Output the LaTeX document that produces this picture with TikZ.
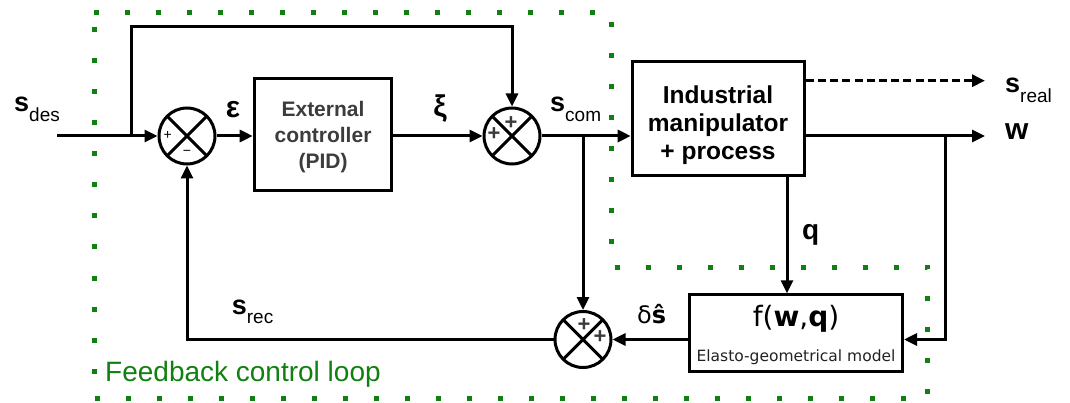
\documentclass[tikz,border=0pt]{standalone}
\usepackage{fontspec}
\setmainfont{Liberation Sans}
\newfontfamily\dejavu{DejaVu Sans}
\usetikzlibrary{arrows.meta,calc}
\definecolor{loopgreen}{RGB}{16,128,16}
\definecolor{txtgray}{RGB}{60,60,60}
\definecolor{modelgray}{RGB}{34,34,34}
\newcommand{\svar}[1]{{\fontsize{27}{27}\selectfont\bfseries s}\raisebox{-9.5pt}{\fontsize{19}{19}\selectfont #1}}
\begin{document}
\begin{tikzpicture}[x=1pt,y=-1pt,
  lw/.style={line width=3pt},
  arr/.style={lw,-{Triangle[length=13pt,width=12pt]}},
  blockbox/.style={draw,lw,inner sep=0pt,fill=white},
  sumj/.style={draw,lw,circle,minimum size=56pt,inner sep=0pt,fill=white,
    path picture={\draw[lw] (path picture bounding box.north west) -- (path picture bounding box.south east)
      (path picture bounding box.north east) -- (path picture bounding box.south west);}},
  lab/.style={anchor=base west,inner sep=0pt},
  bigplus/.style={inner sep=0pt,text=txtgray,font=\bfseries\fontsize{22}{22}\selectfont},
  smallsign/.style={inner sep=0pt,font=\fontsize{14}{14}\selectfont},
  greek/.style={inner sep=0pt,font=\bfseries\fontsize{30}{30}\selectfont},
  loopdots/.style={loopgreen,line width=5pt,dash pattern=on 5pt off 26pt}
]
\useasboundingbox (0,0) rectangle (1070,403);

% blocks
\node[blockbox,minimum width=137.6pt,minimum height=111.4pt] (ctrl) at (323,134.5) {};
\node[blockbox,minimum width=172pt,minimum height=113.7pt] (ind) at (718.2,118.35) {};
\node[blockbox,minimum width=212.7pt,minimum height=77pt] (fbox) at (796.15,333.3) {};

% summing junctions
\node[sumj] (c1) at (187,136) {};
\node[sumj] (c2) at (512,136) {};
\node[sumj] (c3) at (583,339.5) {};

% signs
\node[smallsign] (c1p) at (167.7,135) {+};
\node[smallsign] (c1m) at (187,152.7) {−};
\node[bigplus] (c2p1) at (494,134) {+};
\node[bigplus] (c2p2) at (511,122.7) {+};
\node[bigplus] (c3p1) at (584,325) {+};
\node[bigplus] (c3p2) at (600,336.7) {+};

% block texts
\node[anchor=base,align=center,text=txtgray,inner sep=0pt,
  font=\bfseries\fontsize{21}{26}\selectfont] (ctrltxt) at (323,168.3) {External\\controller\\(PID)};
\node[anchor=base,align=center,inner sep=0pt,
  font=\bfseries\fontsize{24.5}{28.3}\selectfont] (indtxt) at (718,160) {Industrial\\manipulator\\+ process};
\node[anchor=base,inner sep=0pt,font=\dejavu\fontsize{28}{28}\selectfont] (fwq) at (796,326) {f(\textbf{w},\textbf{q})};
\node[anchor=base,inner sep=0pt,text=modelgray,font=\dejavu\fontsize{15.5}{15.5}\selectfont] (elasto) at (796,361) {Elasto-geometrical model};

% coordinates
\coordinate (in) at (57,136);
\coordinate (br1) at (131,136);
\coordinate (ff) at (131,27);
\coordinate (br2) at (583,136);
\coordinate (br3) at (945,136);
\coordinate (outw) at (985,136);
\coordinate (outs) at (985,80.7);
\coordinate (qx) at (787,0);

% connectors
\draw[arr] (in) -- (c1.west);
\draw[arr] (c1.east) -- (c1.east -| ctrl.west);
\draw[arr] (ctrl.east |- c2) -- (c2.west);
\draw[arr] (br1) -- (ff) -| (c2.north);
\draw[arr] (c2.east) -- (c2.east -| ind.west);
\draw[arr] (br2) -- (c3.north);
\draw[arr] (ind.east |- outw) -- (outw);
\draw[arr,dash pattern=on 8pt off 4.2pt] (ind.east |- outs) -- (outs);
\draw[arr] (ind.south -| qx) -- (fbox.north -| qx);
\draw[arr] (br3) |- (fbox.east |- c3);
\draw[arr] (fbox.west |- c3) -- (c3.east);
\draw[arr] (c3.west) -| (c1.south);

% labels
\node[lab] (sdes) at (14,111.7) {\svar{des}};
\node[greek] (eps) at (233,110) {ε};
\node[greek] (xi) at (440,109) {ξ};
\node[lab] (scom) at (550,111.7) {\svar{com}};
\node[lab] (sreal) at (1005,92.7) {\svar{real}};
\node[lab,font=\bfseries\fontsize{30}{30}\selectfont] (wlab) at (1005,139.3) {w};
\node[lab,font=\bfseries\fontsize{28}{28}\selectfont] (qlab) at (802,240) {q};
\node[lab,font=\dejavu\fontsize{24}{24}\selectfont] (dshat) at (637,323.3) {δ\textbf{ŝ}};
\node[lab] (srec) at (231.7,314) {\svar{rec}};
\node[lab,text=loopgreen,font=\fontsize{28}{28}\selectfont] (fbl) at (105,381.7) {Feedback control loop};

% feedback loop boundary
\draw[loopdots] (94,12.5) -- (611,12.5) -- (611,267) -- (927,267) -- (927,398.5) -- (94,398.5) -- cycle;
\end{tikzpicture}
\end{document}
